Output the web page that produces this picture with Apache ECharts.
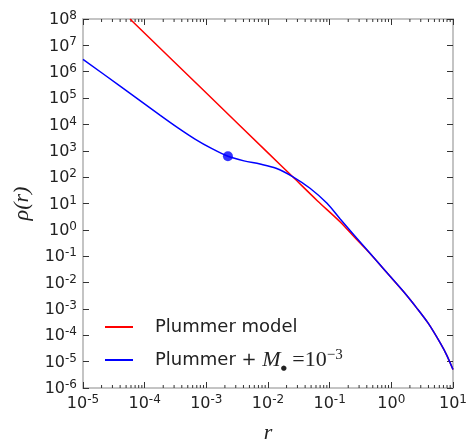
<!DOCTYPE html>
<html lang="en">
<head>
<meta charset="UTF-8" />
<title>Plummer density</title>
<script src="https://cdn.jsdelivr.net/npm/echarts@6/dist/echarts.min.js"></script>
</head>
<body style="margin: 0">
<div id="container" style="width: 467px; height: 441px"></div>
<script>
// values (r, rho)
const plummerR = [5.78e-5, 1e-3, 1e-2, 2.54e-2, 6.3e-2, 0.147, 0.258, 0.451, 0.851, 1.585, 2.57, 3.98, 6.17, 7.94, 10];
const plummerRho = [1e8, 1.55e5, 832, 101, 12.8, 2.04, 0.50, 0.126, 0.0234, 4.47e-3, 1.1e-3, 2.82e-4, 5.25e-5, 1.74e-5, 5.0e-6];

const bhR = [1e-5, 4.0e-5, 1.77e-4, 3.47e-4, 6.55e-4, 1.235e-3, 2.24e-3, 4.08e-3, 7.41e-3, 1.35e-2, 2.54e-2, 4.8e-2, 9.06e-2, 0.147, 0.258, 0.451, 0.851, 1.585, 2.57, 3.98, 6.17, 7.94, 10];
const bhRho = [2.95e6, 2.84e5, 2.26e4, 7.4e3, 2.78e3, 1.2e3, 618, 414, 313, 217, 103, 37.8, 10.2, 2.63, 0.57, 0.129, 0.0234, 4.47e-3, 1.1e-3, 2.82e-4, 5.25e-5, 1.74e-5, 5.0e-6];

const markerR = [2.24e-3];
const markerRho = [618];

const xMin = 1e-5, xMax = 10;
const yMin = 1e-6, yMax = 1e8;

// minor ticks 2..9 in each decade of r
const minorTickR = [];
for (let e = -5; e < 1; e++) {
  for (let k = 2; k <= 9; k++) minorTickR.push(k * Math.pow(10, e));
}

const pair = (xs, ys) => xs.map((x, i) => [x, ys[i]]);

const tickRich = {
  b: { fontSize: 16, fontFamily: 'DejaVu Sans', color: '#222', lineHeight: 18, verticalAlign: 'bottom' },
  s: { fontSize: 12, fontFamily: 'DejaVu Sans', color: '#222', lineHeight: 11, verticalAlign: 'top' }
};
function powLabel(v) {
  const e = Math.round(Math.log10(v));
  return '{b|10}{s|' + e + '}';
}

const axisCommon = {
  type: 'log',
  logBase: 10,
  interval: 1,
  axisLine: { show: true, onZero: false, lineStyle: { color: '#c4c4c4', width: 2 } },
  axisTick: { show: true, inside: true, length: 6, lineStyle: { color: '#333', width: 1 } },
  splitLine: { show: false }
};

let myChart = echarts.init(document.getElementById('container'));
let option = {
  animation: false,
  grid: { left: 83, right: 14, top: 19, bottom: 53, containLabel: false, outerBoundsMode: 'none' },
  xAxis: [
    Object.assign({}, axisCommon, {
      min: xMin, max: xMax, position: 'bottom',
      axisLabel: { margin: 6, formatter: powLabel, rich: tickRich },
      name: 'r', nameLocation: 'middle', nameGap: 34,
      nameTextStyle: { fontFamily: 'Liberation Serif', fontStyle: 'italic', fontSize: 22, color: '#222' }
    }),
    Object.assign({}, axisCommon, {
      min: xMin, max: xMax, position: 'top', axisLabel: { show: false }
    })
  ],
  yAxis: [
    Object.assign({}, axisCommon, {
      min: yMin, max: yMax, position: 'left',
      axisLabel: { margin: 6, formatter: powLabel, rich: tickRich },
      name: 'ρ(r)', nameLocation: 'middle', nameGap: 50, nameRotate: 90,
      nameTextStyle: { fontFamily: 'Liberation Serif', fontStyle: 'italic', fontSize: 22, color: '#222' }
    }),
    Object.assign({}, axisCommon, {
      min: yMin, max: yMax, position: 'right', axisLabel: { show: false }
    })
  ],
  legend: {
    data: ['Plummer model', 'Plummer + M'],
    orient: 'vertical',
    left: 105,
    top: 315,
    padding: 0,
    itemGap: 9,
    itemWidth: 28,
    itemHeight: 2,
    icon: 'rect',
    textStyle: {
      fontFamily: 'DejaVu Sans', fontSize: 18, color: '#222', lineHeight: 24, padding: [0, 0, 0, 17],
      rich: {
        t: { fontFamily: 'DejaVu Sans', fontSize: 18, color: '#222', lineHeight: 24 },
        m: { fontFamily: 'Liberation Serif', fontStyle: 'italic', fontSize: 22, color: '#222', lineHeight: 24 },
        sub: { fontFamily: 'DejaVu Sans', fontSize: 7, color: '#222', lineHeight: 8, verticalAlign: 'bottom' },
        e: { fontFamily: 'Liberation Serif', fontSize: 22, color: '#222', lineHeight: 24 },
        sup: { fontFamily: 'Liberation Serif', fontSize: 15, color: '#222', lineHeight: 13, verticalAlign: 'top' }
      }
    },
    formatter: function (name) {
      if (name === 'Plummer model') return '{t|Plummer model}';
      return '{t|Plummer + }{m|M}{sub|●}{e| =10}{sup|−3}';
    }
  },
  series: [
    {
      name: 'Plummer model',
      type: 'line',
      data: pair(plummerR, plummerRho),
      showSymbol: false,
      symbol: 'none',
      smooth: 0.3,
      lineStyle: { color: '#ff0000', width: 1.5 },
      itemStyle: { color: '#ff0000' }
    },
    {
      name: 'Plummer + M',
      type: 'line',
      data: pair(bhR, bhRho),
      showSymbol: false,
      symbol: 'none',
      smooth: 0.3,
      lineStyle: { color: '#0000ff', width: 1.5 },
      itemStyle: { color: '#0000ff' }
    },
    {
      name: 'marker',
      type: 'scatter',
      data: pair(markerR, markerRho),
      symbolSize: 10,
      itemStyle: { color: '#0000ff' }
    },
    {
      name: 'minor ticks',
      type: 'custom',
      silent: true,
      clip: false,
      data: minorTickR.map(r => [r, yMin]),
      renderItem: function (params, api) {
        const b = api.coord([api.value(0), yMin]);
        const t = api.coord([api.value(0), yMax]);
        const st = { stroke: '#333', lineWidth: 1 };
        return {
          type: 'group',
          children: [
            { type: 'line', shape: { x1: b[0], y1: b[1], x2: b[0], y2: b[1] - 3 }, style: st },
            { type: 'line', shape: { x1: t[0], y1: t[1], x2: t[0], y2: t[1] + 3 }, style: st }
          ]
        };
      }
    }
  ]
};
myChart.setOption(option);
</script>
</body>
</html>
